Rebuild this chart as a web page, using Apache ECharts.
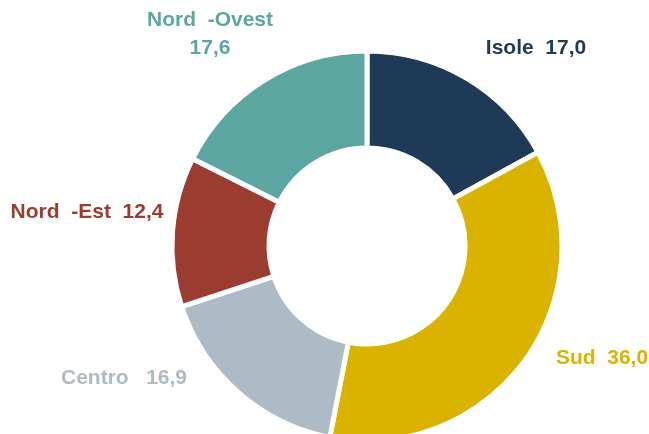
<!DOCTYPE html>
<html>
<head>
    <meta charset="UTF-8">
    <title>Ripartizione per area</title>
    <script src="https://cdn.jsdelivr.net/npm/echarts/dist/echarts.min.js"></script>
    <style>
        html, body { margin: 0; padding: 0; background: #fff; }
    </style>
</head>
<body>
<div id="chart" style="width: 649px; height: 434px;"></div>

<script>
    // slices, clockwise from the top
    const areas = ['Isole', 'Sud', 'Centro', 'Nord  -Est', 'Nord  -Ovest'];
    const values = [17.0, 36.0, 16.9, 12.4, 17.6];
    const valueLabels = ['17,0', '36,0', '16,9', '12,4', '17,6'];
    const separators = ['  ', '  ', '   ', '  ', '\n'];
    const colors = ['#1f3a57', '#dab200', '#adbbc7', '#9b3c31', '#5ba6a1'];

    // where each label sits (label centre, px)
    const labelPos = [[536, 48], [602, 358], [124, 378], [87, 212], [210, 34]];

    const chart = echarts.init(document.getElementById('chart'));
    const option = {
        animation: false,
        series: [
            {
                type: 'pie',
                center: [367, 246],
                radius: [98, 195],
                startAngle: 90,
                clockwise: true,
                itemStyle: {
                    borderColor: '#fff',
                    borderWidth: 5
                },
                label: {
                    show: true,
                    position: 'outside',
                    overflow: 'none',
                    fontFamily: 'Liberation Sans, Arial, sans-serif',
                    fontWeight: 'bold',
                    fontSize: 21,
                    lineHeight: 28,
                    align: 'center',
                    formatter: p => areas[p.dataIndex] + separators[p.dataIndex] + valueLabels[p.dataIndex]
                },
                labelLine: { show: false },
                labelLayout: p => ({
                    x: labelPos[p.dataIndex][0],
                    y: labelPos[p.dataIndex][1],
                    align: 'center',
                    verticalAlign: 'middle'
                }),
                emphasis: { disabled: true },
                data: areas.map((name, i) => ({
                    name: name,
                    value: values[i],
                    itemStyle: { color: colors[i] },
                    label: { color: colors[i] }
                }))
            }
        ]
    };

    chart.setOption(option);
</script>
</body>
</html>
